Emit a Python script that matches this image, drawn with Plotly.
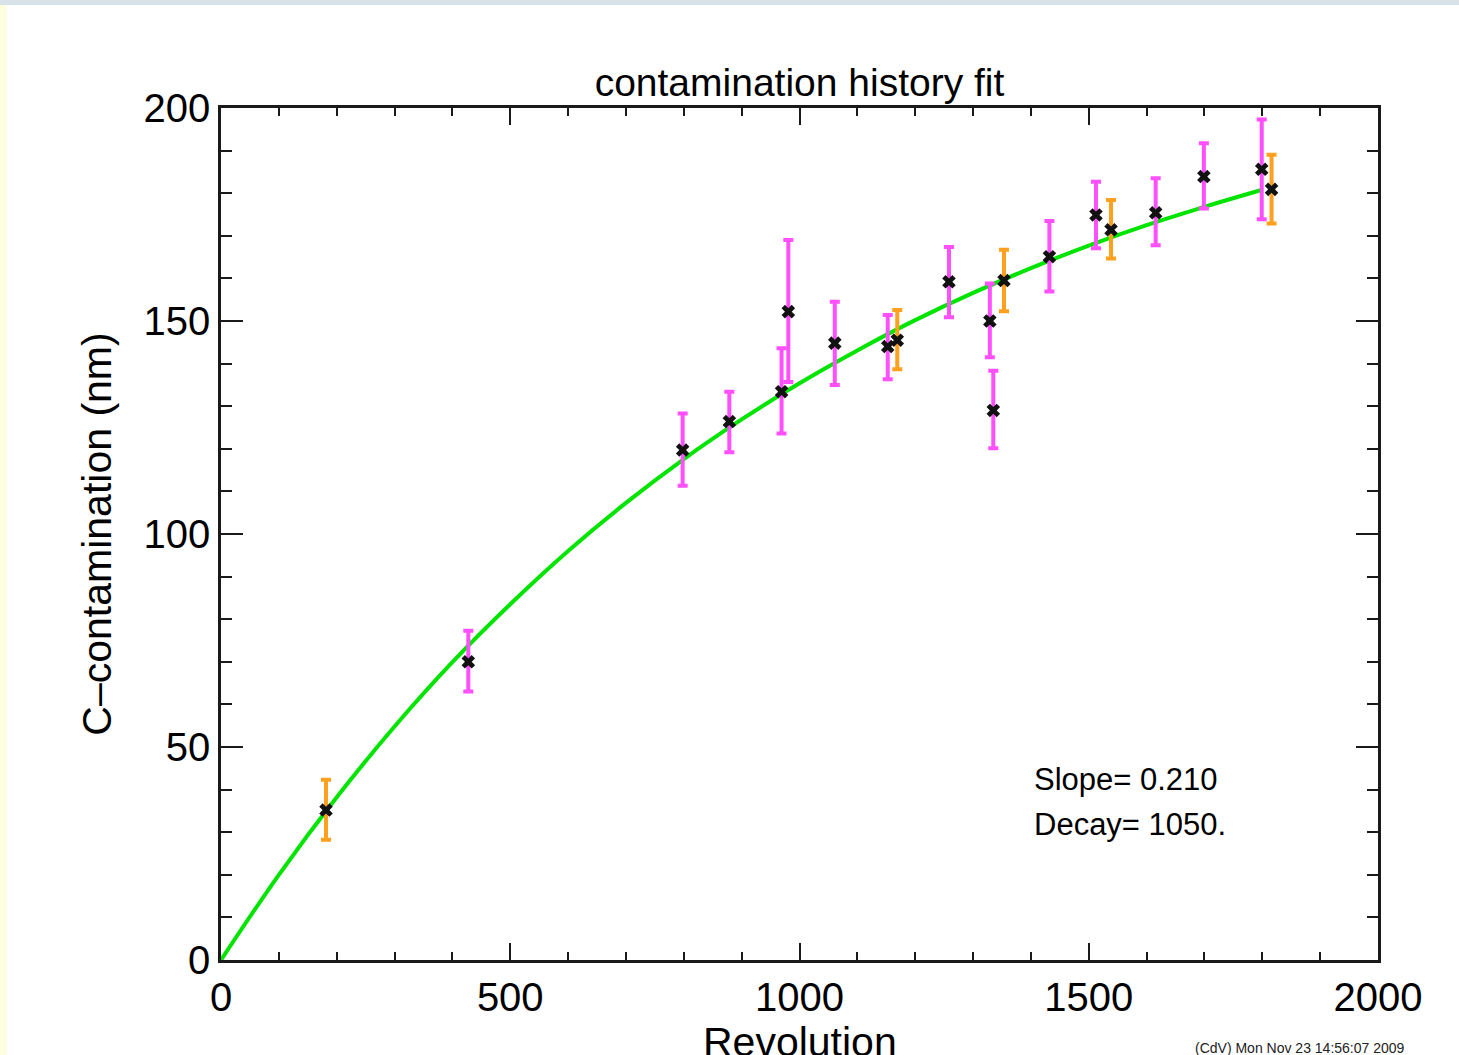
import plotly.graph_objects as go

# ---- data ----
mag_x = [427.5, 798, 878.7, 969, 980.7, 1061, 1152.5, 1258.4, 1329, 1335, 1432, 1512.5, 1615.7, 1699, 1799]
mag_y = [70.0, 119.7, 126.4, 133.4, 152.2, 144.8, 144.0, 159.2, 150.0, 129.0, 165.1, 174.9, 175.4, 183.9, 185.6]
mag_up = [7.3, 8.6, 7.0, 10.2, 16.8, 9.7, 7.4, 8.2, 8.8, 9.3, 8.4, 7.8, 8.1, 7.8, 11.7]
mag_dn = [7.0, 8.4, 7.2, 9.8, 16.5, 9.8, 7.7, 8.3, 8.5, 8.9, 8.2, 7.8, 7.6, 7.5, 11.7]

org_x = [181.5, 1169, 1353.5, 1538.5, 1816]
org_y = [35.2, 145.5, 159.5, 171.4, 180.9]
org_up = [7.1, 7.1, 7.2, 7.0, 8.1]
org_dn = [7.0, 6.8, 7.2, 6.7, 8.0]

fit_x = [0, 100, 200, 300, 400, 500, 600, 700, 800, 900, 1000, 1100, 1200, 1300, 1400, 1500, 1600, 1700, 1800]
fit_y = [0, 20.0, 38.2, 54.8, 69.9, 83.5, 96.0, 107.3, 117.6, 126.9, 135.4, 143.1, 150.2, 156.6, 162.4, 167.7, 172.5, 176.8, 180.8]

x_ticks = [0, 500, 1000, 1500, 2000]
y_ticks = [0, 50, 100, 150, 200]

FONT = "Liberation Sans, Arial, Helvetica, sans-serif"

fig = go.Figure()
fig.add_trace(go.Scatter(x=fit_x, y=fit_y, mode="lines", line=dict(color="#00E400", width=4, shape="spline"),
                         hoverinfo="skip", showlegend=False))
for xs, ys, up, dn, col in [(mag_x, mag_y, mag_up, mag_dn, "#FF4FFF"), (org_x, org_y, org_up, org_dn, "#FFA01E")]:
    fig.add_trace(go.Scatter(
        x=xs, y=ys, mode="markers",
        marker=dict(symbol="x", size=12, color="#111111"),
        error_y=dict(type="data", symmetric=False, array=up, arrayminus=dn, color=col, thickness=4, width=5),
        showlegend=False))

axis_common = dict(showgrid=False, zeroline=False, showline=True, linecolor="#1a1a1a", linewidth=2.5,
                   mirror="ticks", ticks="inside", tickwidth=2, tickcolor="#1a1a1a", automargin=False,
                   tickfont=dict(family=FONT, size=40, color="#000"))
fig.update_xaxes(range=[0, 2000], tickvals=x_ticks, ticktext=[str(v) for v in x_ticks], ticklen=17,
                 ticklabelstandoff=0,
                 minor=dict(dtick=100, tick0=0, ticks="inside", ticklen=8, tickwidth=2, tickcolor="#1a1a1a"),
                 **axis_common)
fig.update_yaxes(range=[0, 200], tickvals=y_ticks, ticktext=[str(v) for v in y_ticks], ticklen=22,
                 minor=dict(dtick=10, tick0=0, ticks="inside", ticklen=11, tickwidth=2, tickcolor="#1a1a1a"),
                 title=dict(text="C\u2013contamination (nm)", font=dict(family=FONT, size=41, color="#000"), standoff=20),
                 **axis_common)

# x-axis title (placed like the reference, near the bottom page edge)
fig.add_annotation(x=0.5, y=-0.067, xref="paper", yref="paper", text="Revolution", showarrow=False,
                   xanchor="center", yanchor="top", font=dict(family=FONT, size=41, color="#000"))

fig.add_annotation(x=1402, y=42.3, xref="x", yref="y", text="Slope= 0.210", showarrow=False,
                   xanchor="left", yanchor="middle", font=dict(family=FONT, size=31, color="#000"))
fig.add_annotation(x=1402, y=31.9, xref="x", yref="y", text="Decay= 1050.", showarrow=False,
                   xanchor="left", yanchor="middle", font=dict(family=FONT, size=31, color="#000"))
fig.add_annotation(x=0.9326, y=-0.1033, xref="paper", yref="paper", text="(CdV) Mon Nov 23 14:56:07 2009",
                   showarrow=False, xanchor="center", yanchor="middle", font=dict(family=FONT, size=14, color="#222"))

# page border strips
fig.add_shape(type="rect", xref="paper", yref="paper", x0=-0.191, x1=-0.185, y0=-0.1115, y1=1.1268,
              fillcolor="#FDFDE0", line_width=0, layer="below")
fig.add_shape(type="rect", xref="paper", yref="paper", x0=-0.191, x1=1.07, y0=1.1209, y1=1.1268,
              fillcolor="#D8E2E8", line_width=0, layer="below")

fig.update_layout(
    width=1459, height=1055,
    margin=dict(l=221, r=81, t=108, b=95),
    paper_bgcolor="white", plot_bgcolor="white",
    title=dict(text="contamination history fit", x=0.5, xanchor="center", xref="paper",
               y=1 - 82 / 1055, yref="container", yanchor="middle",
               font=dict(family=FONT, size=39, color="#000")),
)

fig.write_html("out.html", config={"displayModeBar": False},
               post_script="document.body.style.margin='0';document.body.style.overflow='hidden';")
